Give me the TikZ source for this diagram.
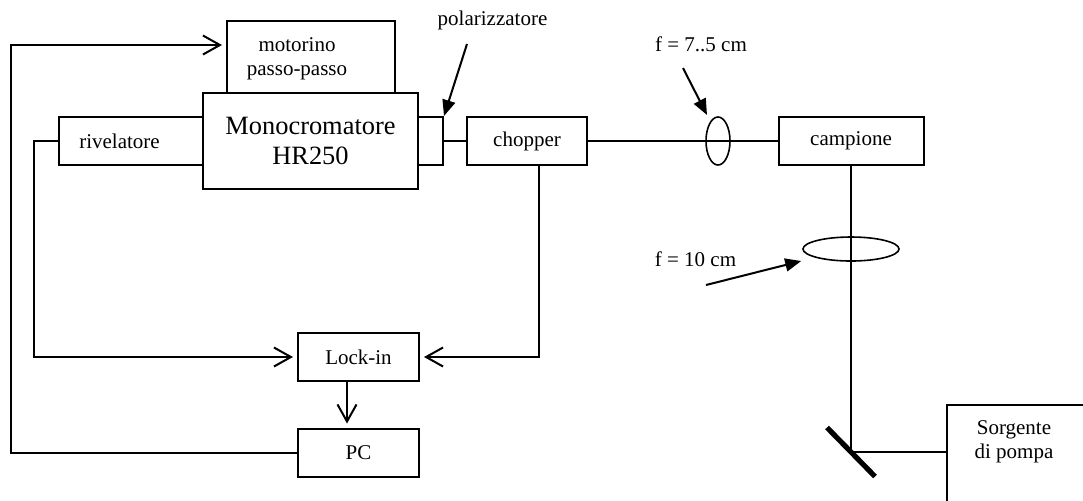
\documentclass[tikz,border=0pt]{standalone}
\usepackage{fontspec}
\setmainfont{Liberation Serif}
\usetikzlibrary{arrows.meta,positioning,calc,shapes.geometric}
\tikzset{
  box/.style={draw, line width=1pt, fill=white, inner sep=0pt, align=center,
              font=\fontsize{10.5}{12}\selectfont, minimum height=24pt},
  lbl/.style={font=\fontsize{10.5}{12}\selectfont, inner sep=1pt, align=center},
  lens/.style={draw, ellipse, line width=0.8pt, inner sep=0pt},
  beam/.style={line width=1pt},
  feed/.style={line width=1pt, -{Straight Barb[length=8.5pt,width=9.5pt]}, shorten >=2pt},
  point/.style={line width=1pt, -{Triangle[length=8pt,width=6.5pt]}},
}
\begin{document}
\begin{tikzpicture}[x=0.5pt,y=-0.5pt]
  \path[use as bounding box, clip] (0,0) rectangle (1083,500);
  % apparato
  \node[box, minimum width=84pt, minimum height=40pt] (mot) at (311,61) {};
  \node[lbl] (motl) at (297,58.5) {motorino\\passo-passo};
  \node[box, minimum width=85.5pt] (riv) at (144.5,141) {};
  \node[lbl] (rivl) at (119.5,141) {rivelatore};
  \node[box, minimum width=24pt] (pol) at (419,141) {};
  \node[box, minimum width=107.5pt, minimum height=48pt,
        font=\fontsize{13.2}{15}\selectfont] (mono) at (310.5,141) {Monocromatore\\HR250};
  \node[box, minimum width=60pt] (chop) at (527,141) {chopper};
  \node[box, minimum width=72.5pt] (camp) at (851,141) {campione};
  \node[box, minimum width=60.5pt] (lock) at (358.5,357) {Lock-in};
  \node[box, minimum width=60.5pt] (pc) at (358.5,452.5) {PC};
  \node[box, minimum width=75pt, minimum height=60pt] (sorg) at (1022,465) {};
  \node[lbl] (sorgl) at (1014,442) {Sorgente\\di pompa};
  \coordinate (mir) at (851,452);
  % fascio
  \draw[beam] (pol.east) -- (chop.west);
  \draw[beam] (chop.east) -- (camp.west);
  \draw[beam] (camp.south) -- (mir) -- (mir -| sorg.west);
  \draw[line width=2.6pt] ($(mir)+(-24,-24.5)$) -- ($(mir)+(24,24.5)$);
  \node[lens, minimum width=12pt, minimum height=24pt] (lens1) at (718,141) {};
  \node[lens, minimum width=48pt, minimum height=12pt] (lens2) at (851,249) {};
  % segnali
  \coordinate (fbl) at (11,45);
  \coordinate (rvl) at (34,141);
  \draw[feed] (pc.west) -| (fbl) -- (fbl -| mot.west);
  \draw[feed] (riv.west) -- (rvl) |- (lock.west);
  \draw[feed] ([xshift=6pt]chop.south) |- (lock.east);
  \draw[feed] ([xshift=-5.75pt]lock.south) -- ([xshift=-5.75pt]pc.north);
  % etichette
  \node[lbl] (polt) at (492.5,20) {polarizzatore};
  \node[lbl] (f75) at (701,44) {f = 7..5 cm};
  \node[lbl] (f10) at (695.5,259.5) {f = 10 cm};
  \draw[point] ([shift={(-25.5,24)}]polt.center) -- (pol.north east);
  \draw[point] ([shift={(-18,24)}]f75.center) -- ([shift={(-11,-26)}]lens1.center);
  \draw[point] ([shift={(10.5,25.5)}]f10.center) -- ([shift={(-1,12)}]lens2.west);
\end{tikzpicture}
\end{document}
